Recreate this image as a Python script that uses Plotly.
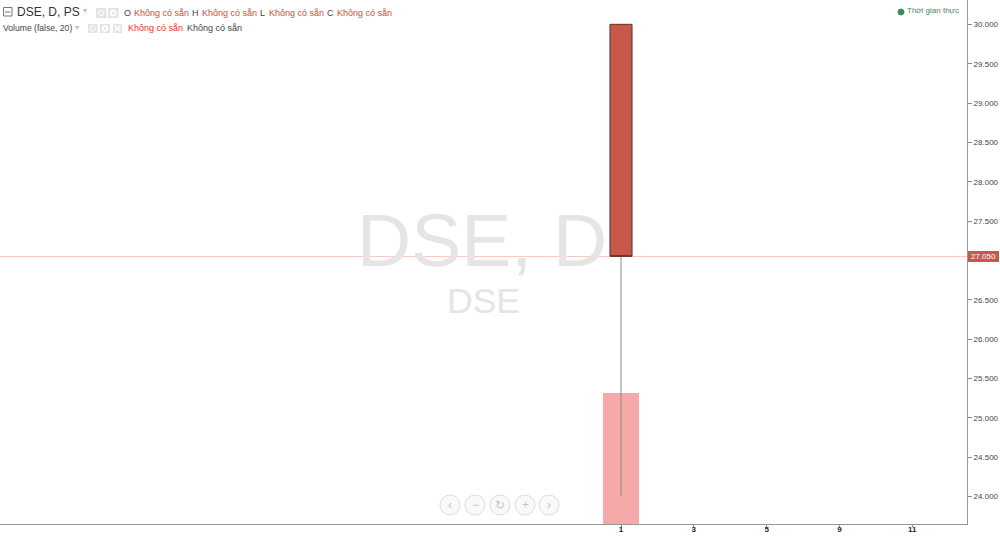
import plotly.graph_objects as go

# Data
bar_index = [0]
open_price = [30.0]
high_price = [30.0]
low_price = [24.0]
close_price = [27.05]
volume = [1000]
last_price = 27.05
price_ticks = [24, 24.5, 25, 25.5, 26, 26.5, 27.5, 28, 28.5, 29, 29.5, 30]
x_tick_pos = [0, 2, 4, 6, 8]
x_tick_labels = ["1", "3", "5", "9", "11"]

W, H = 1000, 538
PW, PH = 967, 524
FONT = "Liberation Sans"
RED = "#c8594a"
DARK_BORDER = "#6e3a2e"
ICON = "#e4e4e4"


def px(x):
    return x / PW


def py(y):
    return 1 - y / PH


fig = go.Figure()

fig.add_trace(go.Bar(x=bar_index, y=volume, yaxis="y", width=1.0,
                     marker=dict(color="#f5aaa9", line=dict(width=0)),
                     hoverinfo="skip", showlegend=False))
fig.add_trace(go.Candlestick(x=bar_index, open=open_price, high=high_price,
                             low=low_price, close=close_price, yaxis="y2",
                             whiskerwidth=0,
                             decreasing=dict(fillcolor=RED, line=dict(color="#8a8a8a", width=1)),
                             increasing=dict(fillcolor=RED, line=dict(color="#8a8a8a", width=1)),
                             showlegend=False))
fig.add_trace(go.Candlestick(x=bar_index, open=open_price, high=open_price,
                             low=close_price, close=close_price, yaxis="y2",
                             whiskerwidth=0,
                             decreasing=dict(fillcolor=RED, line=dict(color=DARK_BORDER, width=1)),
                             increasing=dict(fillcolor=RED, line=dict(color=DARK_BORDER, width=1)),
                             showlegend=False))

shapes = [dict(type="line", xref="paper", yref="y2", x0=0, x1=1, y0=last_price, y1=last_price,
               line=dict(color="#f8c9c0", width=1), layer="below")]


def box(x0, y0, x1, y1, fill=ICON, line="rgba(0,0,0,0)"):
    shapes.append(dict(type="rect", xref="paper", yref="paper", x0=px(x0), x1=px(x1),
                       y0=py(y0), y1=py(y1), fillcolor=fill, line=dict(color=line, width=1)))


def circle(cx, cy, r, fill="rgba(0,0,0,0)", line="#dddddd"):
    shapes.append(dict(type="circle", xref="paper", yref="paper", x0=px(cx - r), x1=px(cx + r),
                       y0=py(cy - r), y1=py(cy + r), fillcolor=fill, line=dict(color=line, width=1)))


def seg(x0, y0, x1, y1, color="#ffffff", width=1):
    shapes.append(dict(type="line", xref="paper", yref="paper", x0=px(x0), x1=px(x1),
                       y0=py(y0), y1=py(y1), line=dict(color=color, width=width)))


annotations = []


def text(x, y, s, size=11, color="#333333", anchor="left", family=FONT, bg=None):
    annotations.append(dict(xref="paper", yref="paper", x=px(x), y=py(y), text=s, showarrow=False,
                            xanchor=anchor, yanchor="middle", borderpad=0, borderwidth=0,
                            font=dict(family=family, size=size, color=color),
                            bgcolor=bg))


def icon_button(x0, y0, x1, y1, kind):
    box(x0, y0, x1, y1)
    cx, cy = (x0 + x1) / 2, (y0 + y1) / 2
    if kind == "eye":
        circle(cx, cy, 2.5, "rgba(0,0,0,0)", "#ffffff")
    elif kind == "gear":
        circle(cx, cy, 3, "#ffffff", "#ffffff")
        circle(cx, cy, 1, ICON, ICON)
    else:
        seg(cx - 3, cy - 3, cx + 3, cy + 3, width=1.5)
        seg(cx - 3, cy + 3, cx + 3, cy - 3, width=1.5)


# watermark
text(482, 240, "DSE, D", 75, "#e5e5e5", "center")
text(483, 301, "DSE", 35.5, "#e5e5e5", "center")

# header row 1
box(3.5, 7.5, 12, 16, "rgba(0,0,0,0)", "#777777")
seg(5, 12, 10.5, 12, "#777777")
text(17, 12.5, "DSE, D, PS", 12, "#333333")
text(85, 11, "▾", 8, "#bbbbbb", "center")
icon_button(96, 8, 106.5, 18, "eye")
icon_button(108, 8, 118.5, 18, "gear")
row_items = [(124, "O", 134), (192, "H", 202), (260, "L", 269), (327, "C", 337)]
for lx, lab, vx in row_items:
    text(lx, 13, lab, 9, "#444444")
    text(vx, 13, "Không có sẵn", 9, "#cf4a3a")

# header row 2
text(3, 28, "Volume (false, 20)", 8.6, "#444444")
text(77, 27, "▾", 8, "#bbbbbb", "center")
icon_button(88, 24, 97.5, 33, "eye")
icon_button(100, 24, 110, 33, "gear")
icon_button(113, 24, 122, 33, "close")
text(128, 28, "Không có sẵn", 9, "#e8302a")
text(187, 28, "Không có sẵn", 9, "#444444")

# realtime status
circle(901, 12, 3, "#3d8a5c", "#3d8a5c")
text(907, 11, "Thời gian thực", 8, "#3d8a5c")

# nav buttons
for cx, g in zip([450, 475, 500, 525, 549], ["‹", "−", "↻", "+", "›"]):
    circle(cx, 505, 10, "rgba(245,245,245,0.6)", "#dddddd")
    text(cx, 505, g, 12, "#c4c4c4", "center")

# last price tag
box(968, 251, 999, 262, RED)
text(983.5, 256.5, "27.050", 8, "#ffffff", "center")

fig.update_layout(
    width=W, height=H, autosize=False,
    margin=dict(l=0, r=W - PW, t=0, b=H - PH),
    paper_bgcolor="#ffffff", plot_bgcolor="#ffffff",
    showlegend=False, bargap=0, boxgap=0.4, boxgroupgap=0, boxmode="overlay",
    font=dict(family=FONT, size=10, color="#333333"),
    xaxis=dict(range=[-17.06, 9.505], tickvals=x_tick_pos, ticktext=x_tick_labels, showgrid=False,
               automargin=False, zeroline=False, rangeslider=dict(visible=False), ticks="outside",
               ticklen=2, tickcolor="#888888", ticklabelstandoff=-5,
               tickfont=dict(size=8, color="#222222", weight="bold"),
               showline=True, linecolor="#999999", linewidth=1),
    yaxis=dict(range=[0, 4000], side="left", visible=False, automargin=False),
    yaxis2=dict(range=[23.65, 30.31], overlaying="y", side="right", tickvals=price_ticks,
                tickformat=".3f", automargin=False, showgrid=False, zeroline=False, ticks="outside",
                ticklen=4, tickcolor="#888888", tickfont=dict(size=8, color="#444444"),
                showline=True, linecolor="#999999", linewidth=1),
    shapes=shapes, annotations=annotations,
)

fig.write_html("out.html", config=dict(displayModeBar=False),
               post_script="document.body.style.margin='0';")
